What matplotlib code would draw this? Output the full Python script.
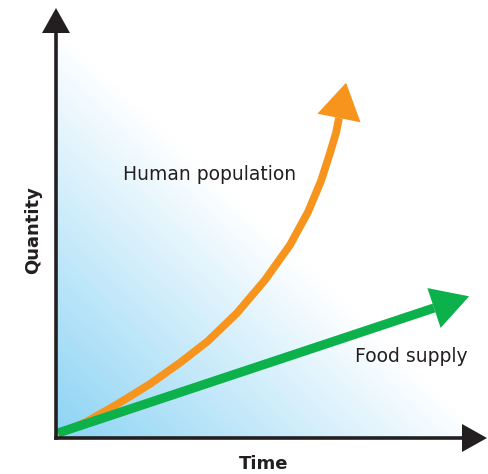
import numpy as np
import matplotlib
matplotlib.use("Agg")
import matplotlib.pyplot as plt
from matplotlib.patches import Polygon

plt.rcParams['font.family'] = ['DejaVu Sans']

# curva de poblacion humana (tiempo, cantidad) en unidades del dibujo
pop_time = [2, 30, 60, 94, 125, 152, 181, 209, 234, 252, 265, 274, 280, 283]
pop_qty = [4, 16, 33, 54, 76, 97, 125, 158, 193, 226, 257, 285, 305, 320]

# recta de suministro de alimentos
food_time = [2, 378]
food_qty = [5, 130]

labels = ['Human population', 'Food supply']
axis_labels = ['Time', 'Quantity']

ORANGE = '#f7941d'
GREEN = '#0db14b'
DARK = '#231f20'


def punta(ax, x0, y0, x1, y1, largo, ancho, color):
    # dibuja una punta de flecha en (x1, y1) en la direccion del ultimo tramo
    d = np.array([x1 - x0, y1 - y0], dtype=float)
    u = d / np.hypot(*d)
    n = np.array([-u[1], u[0]])
    base = np.array([x1, y1], dtype=float)
    tip = base + u * largo
    pts = [base + n * ancho / 2, tip, base - n * ancho / 2]
    ax.add_patch(Polygon(pts, closed=True, color=color, lw=0, zorder=5))


fig = plt.figure(figsize=(4.89, 4.74), dpi=100)
ax = fig.add_axes([0, 0, 1, 1])
ax.set_xlim(-56, 433)
ax.set_ylim(-36, 438)
ax.axis('off')

# fondo degradado azul -> blanco
gx = np.linspace(0, 410, 300)
gy = np.linspace(0, 395, 300)
GX, GY = np.meshgrid(gx, gy)
t = np.clip(GX / 430 + GY / 410, 0, 1)
azul = np.array([0.55, 0.83, 0.96])
img = azul[None, None, :] * (1 - t[..., None]) + t[..., None]
ax.imshow(img, extent=(0, 410, 0, 395), origin='lower', aspect='auto', zorder=0,
          interpolation='bilinear')

# curvas
ax.plot(pop_time, pop_qty, color=ORANGE, lw=5.6, solid_capstyle='butt',
        solid_joinstyle='round', zorder=3)
punta(ax, pop_time[-2], pop_qty[-2], pop_time[-1], pop_qty[-1], 36, 44, ORANGE)

ax.plot(food_time, food_qty, color=GREEN, lw=6.6, solid_capstyle='butt', zorder=3)
punta(ax, food_time[0], food_qty[0], food_time[-1], food_qty[-1], 37, 42, GREEN)

# ejes
ax.plot([0, 0], [0, 406], color=DARK, lw=2.6, solid_capstyle='projecting', zorder=6)
ax.plot([0, 407], [0, 0], color=DARK, lw=2.6, solid_capstyle='projecting', zorder=6)
punta(ax, 0, 0, 0, 405, 25, 28, DARK)
punta(ax, 0, 0, 406, 0, 25, 28, DARK)

# textos
ax.text(67, 264, labels[0], fontsize=13.5, color=DARK, ha='left', va='center', zorder=7)
ax.text(299, 81, labels[1], fontsize=13.5, color=DARK, ha='left', va='center', zorder=7)
ax.text(208, -26, axis_labels[0], fontsize=13, fontweight='bold', color=DARK,
        ha='center', va='center')
ax.text(-23, 208, axis_labels[1], fontsize=13, fontweight='bold', color=DARK,
        ha='center', va='center', rotation=90)

fig.savefig('out.png', dpi=100)
